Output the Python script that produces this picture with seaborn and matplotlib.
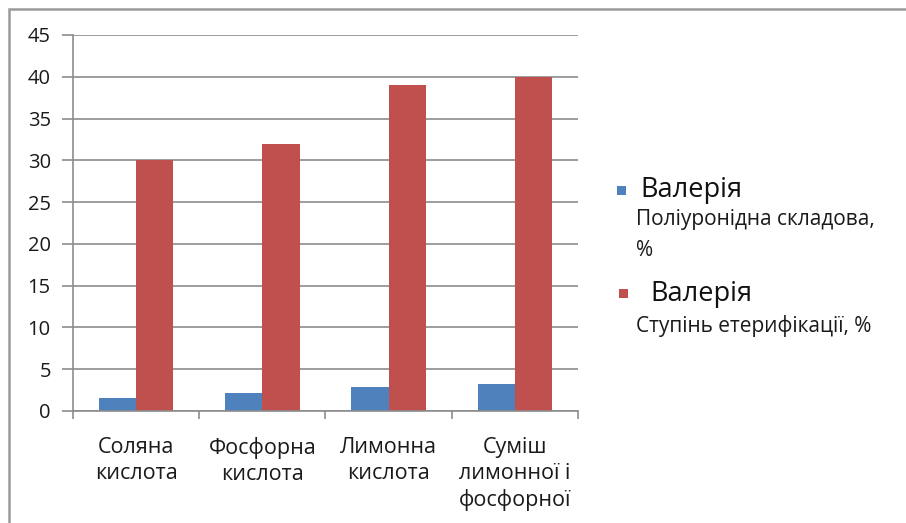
import matplotlib
matplotlib.use("Agg")
import matplotlib.pyplot as plt
from matplotlib.patches import Rectangle
import seaborn as sns
import pandas as pd

# Acid treatment categories and measured values
categories = ["Соляна\nкислота", "Фосфорна\nкислота", "Лимонна\nкислота",
              "Суміш\nлимонної і\nфосфорної"]
series_names = ["Поліуронідна складова, %", "Ступінь етерифікації, %"]
polyuronide = [1.6, 2.1, 2.9, 3.2]
esterification = [30, 32, 39, 40]
legend_title = "Валерія"
legend_sub = ["Поліуронідна складова,\n%", "Ступінь етерифікації, %"]
y_ticks = [0, 5, 10, 15, 20, 25, 30, 35, 40, 45]
colors = ["#4F81BD", "#C0504D"]

df = pd.DataFrame({
    "cat": categories * 2,
    "series": [series_names[0]] * 4 + [series_names[1]] * 4,
    "value": polyuronide + esterification,
})

sns.set_theme(style="white")
plt.rcParams["font.family"] = ["Open Sans", "DejaVu Sans"]

W, H = 906, 523
fig = plt.figure(figsize=(W / 100, H / 100), dpi=100)
fig.patch.set_facecolor("white")

ax = fig.add_axes([73 / W, 1 - 411 / H, (578 - 73) / W, (411 - 35) / H])
sns.barplot(data=df, x="cat", y="value", hue="series", palette=colors,
            width=0.59, saturation=1, legend=False, ax=ax, edgecolor="none")

ax.set_ylim(0, 45)
ax.set_xlim(-0.5, 3.5)
ax.set_yticks(y_ticks)
ax.set_xlabel("")
ax.set_ylabel("")
ax.grid(axis="y", color="#8c8c8c", linewidth=1.2)
ax.set_axisbelow(True)
for s in ["top", "right"]:
    ax.spines[s].set_visible(False)
for s in ["left", "bottom"]:
    ax.spines[s].set_color("#8c8c8c")
    ax.spines[s].set_linewidth(1.2)

ax.tick_params(axis="y", which="major", left=True, length=8, width=1.2,
               color="#8c8c8c", labelsize=14.5, pad=8, labelcolor="#1a1a1a")
ax.tick_params(axis="x", which="major", bottom=False, labelsize=15.5,
               pad=13, labelcolor="#1a1a1a")
ax.set_xticks([-0.5, 0.5, 1.5, 2.5, 3.5], minor=True)
ax.tick_params(axis="x", which="minor", bottom=True, length=6, width=1.2,
               color="#8c8c8c", direction="out")
for lbl in ax.get_xticklabels():
    lbl.set_multialignment("center")
    lbl.set_verticalalignment("top")
    lbl.set_linespacing(1.3)

# Legend drawn as patches and text in pixel positions of the figure
def px(x, y):
    return x / W, 1 - y / H

sq = 9
for i, (c, sub) in enumerate(zip(colors, legend_sub)):
    x0, y0 = [(617, 186), (619, 289)][i]
    fx, fy = px(x0, y0 + sq)
    fig.patches.append(Rectangle((fx, fy), sq / W, sq / H, transform=fig.transFigure,
                                 facecolor=c, edgecolor="none"))
    tx, ty = px([640, 650][i], [190, 294][i])
    fig.text(tx, ty, legend_title, fontsize=19.5, va="center", ha="left",
             color="#111111")
    sx, sy = px(636, [209, 315][i])
    fig.text(sx, sy, sub, fontsize=15, va="top", ha="left", color="#1a1a1a",
             linespacing=1.6)

# Outer chart frame
fx0, fy0 = px(9, 523 + 20)
fig.patches.append(Rectangle((fx0, fy0), 1.2, (523 + 20 - 9) / H,
                             transform=fig.transFigure, facecolor="none",
                             edgecolor="#9a9a9a", linewidth=1.8))

fig.savefig("out.png", dpi=100)
